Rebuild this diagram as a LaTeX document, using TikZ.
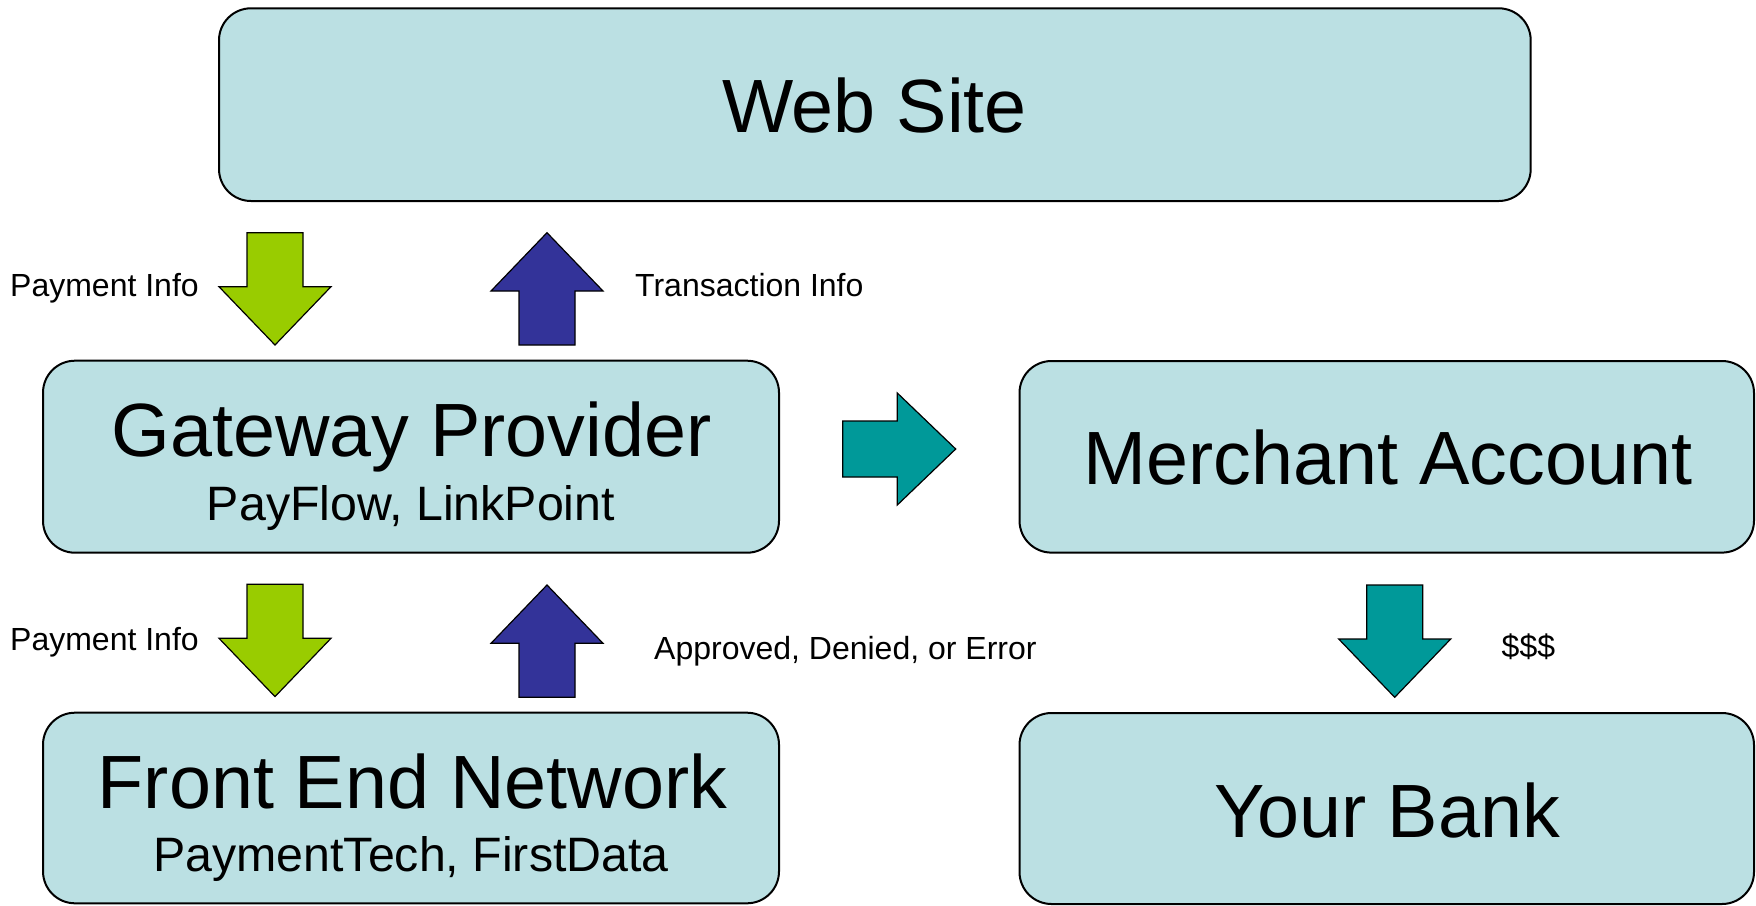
\documentclass[tikz,border=0pt]{standalone}
\usepackage{fontspec}
\setmainfont{Liberation Sans}
\definecolor{boxfill}{HTML}{BBE0E3}
\definecolor{arrgreen}{HTML}{99CC00}
\definecolor{arrblue}{HTML}{333399}
\definecolor{arrteal}{HTML}{009999}
\newcommand\blockdown[3]{\draw[blockarrow,fill=#3,shift={(#1,#2)}] (-28,0) -- (28,0) -- (28,54) -- (56,54) -- (0,112.3) -- (-56,54) -- (-28,54) -- cycle;}
\newcommand\blockup[3]{\draw[blockarrow,fill=#3,shift={(#1,#2)}] (-28,0) -- (28,0) -- (28,-54) -- (56,-54) -- (0,-112.3) -- (-56,-54) -- (-28,-54) -- cycle;}
\newcommand\blockright[3]{\draw[blockarrow,fill=#3,shift={(#1,#2)}] (0,-28) -- (0,28) -- (54.6,28) -- (54.6,56) -- (113,0) -- (54.6,-56) -- (54.6,-28) -- cycle;}
\begin{document}
\begin{tikzpicture}[x=1pt,y=-1pt,
  box/.style={draw=black,line width=2pt,fill=boxfill,rounded corners=32pt,inner sep=0pt,shape=rectangle},
  bigtxt/.style={font=\fontsize{75.5}{80}\selectfont,anchor=base,inner sep=0pt},
  subtxt/.style={font=\fontsize{48.3}{52}\selectfont,anchor=base,inner sep=0pt},
  lbl/.style={font=\fontsize{32}{36}\selectfont,anchor=base west,inner sep=0pt},
  blockarrow/.style={draw=black,line width=1.2pt,line join=miter}]
\useasboundingbox (0,0) rectangle (1756,905);
\fill[white] (0,0) rectangle (1756,905);
% boxes
\node[box,minimum width=1311.7pt,minimum height=192.7pt] (web) at (874.85,104.65) {};
\node[box,minimum width=736pt,minimum height=192pt] (gw) at (411,456.7) {};
\node[box,minimum width=736pt,minimum height=190.6pt] (fe) at (411,808) {};
\node[box,minimum width=734.5pt,minimum height=191.6pt] (ma) at (1386.75,456.8) {};
\node[box,minimum width=734.5pt,minimum height=191pt] (yb) at (1386.75,808.5) {};
% box texts
\node[bigtxt] (webtxt) at (874.5,132.7) {Web Site};
\node[bigtxt] (gwtxt) at (411.5,456.7) {Gateway Provider};
\node[subtxt] (gwsub) at (411,520) {PayFlow, LinkPoint};
\node[bigtxt] (matxt) at (1388,484.9) {Merchant Account};
\node[bigtxt] (fetxt) at (412.5,808) {Front End Network};
\node[subtxt] (fesub) at (411,871.7) {PaymentTech, FirstData};
\node[bigtxt] (ybtxt) at (1387,837.3) {Your Bank};
% block arrows
\blockdown{275}{232.7}{arrgreen}
\blockup{547}{345}{arrblue}
\blockdown{275}{584.3}{arrgreen}
\blockup{547}{697.3}{arrblue}
\blockright{842.7}{449}{arrteal}
\blockdown{1394.7}{585}{arrteal}
% labels
\node[lbl] (pi1) at (10,296.7) {Payment Info};
\node[lbl] (ti) at (635,296) {Transaction Info};
\node[lbl] (pi2) at (10,650) {Payment Info};
\node[lbl] (ade) at (654,659.3) {Approved, Denied, or Error};
\node[lbl] (usd) at (1501.5,657.5) {\$\$\$};
\end{tikzpicture}
\end{document}
